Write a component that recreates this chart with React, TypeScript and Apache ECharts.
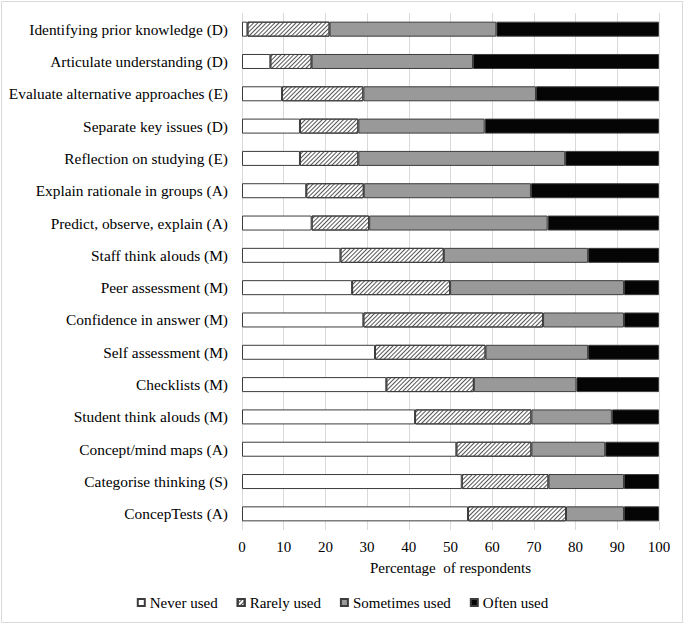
import React, { useEffect, useRef } from "react";
import * as echarts from "echarts";

const categories = [
  "Identifying prior knowledge (D)",
  "Articulate understanding (D)",
  "Evaluate alternative approaches (E)",
  "Separate key issues (D)",
  "Reflection on studying (E)",
  "Explain rationale in groups (A)",
  "Predict, observe, explain (A)",
  "Staff think alouds (M)",
  "Peer assessment (M)",
  "Confidence in answer (M)",
  "Self assessment (M)",
  "Checklists (M)",
  "Student think alouds (M)",
  "Concept/mind maps (A)",
  "Categorise thinking (S)",
  "ConcepTests (A)",
];

const neverUsed = [1.3, 6.8, 9.6, 13.9, 13.9, 15.4, 16.7, 23.6, 26.4, 29.1, 31.9, 34.6, 41.5, 51.4, 52.7, 54.2];
const rarelyUsed = [19.7, 9.9, 19.5, 14.0, 14.0, 13.8, 13.8, 24.8, 23.5, 43.1, 26.5, 21.0, 27.9, 18.0, 20.8, 23.5];
const sometimesUsed = [40.0, 38.7, 41.4, 30.3, 49.6, 40.1, 42.8, 34.6, 41.7, 19.4, 24.6, 24.6, 19.3, 17.7, 18.1, 13.9];
const oftenUsed = [39.0, 44.6, 29.5, 41.8, 22.5, 30.7, 26.7, 17.0, 8.4, 8.4, 17.0, 19.8, 11.3, 12.9, 8.4, 8.4];

const xTicks = ["0", "10", "20", "30", "40", "50", "60", "70", "80", "90", "100"];

const FONT = "'Liberation Serif', 'Times New Roman', serif";

export default function App() {
  const ref = useRef<HTMLDivElement>(null);
  useEffect(() => {
    if (!ref.current) return;
    const chart = echarts.init(ref.current, undefined, { renderer: "svg" });
    const border = "#3c3c3c";
    const mk = (name: string, data: number[], color: string, decal?: any) => ({
      name,
      type: "bar",
      stack: "total",
      data,
      barWidth: 15,
      itemStyle: { color, borderColor: border, borderWidth: 1, decal },
      emphasis: { disabled: true },
    });
    chart.setOption({
      animation: false,
      backgroundColor: "#ffffff",
      textStyle: { fontFamily: FONT },
      graphic: [
        {
          type: "rect",
          shape: { x: 1.5, y: 1.5, width: 681, height: 621 },
          style: { fill: "none", stroke: "#d9d9d9", lineWidth: 1 },
          silent: true,
        },
      ],
      grid: { left: 242, right: 26, top: 13, height: 517 },
      legend: {
        bottom: 12,
        left: "center",
        icon: "rect",
        itemWidth: 7,
        itemHeight: 7,
        itemGap: 19,
        textStyle: { fontFamily: FONT, fontSize: 15, color: "#000" },
        data: ["Never used", "Rarely used", "Sometimes used", "Often used"],
      },
      xAxis: {
        type: "value",
        min: 0,
        max: 100,
        interval: 10,
        axisLine: { show: false },
        axisTick: { show: false },
        splitLine: { show: true, lineStyle: { color: "#d9d9d9", width: 1 } },
        axisLabel: {
          fontFamily: FONT,
          fontSize: 15,
          color: "#000",
          margin: 9,
          formatter: (v: number) => xTicks[Math.round(v / 10)] ?? String(v),
        },
        name: "Percentage  of respondents",
        nameLocation: "middle",
        nameGap: 30,
        nameTextStyle: { fontFamily: FONT, fontSize: 15, color: "#000" },
      },
      yAxis: {
        type: "category",
        data: categories,
        inverse: true,
        axisLine: { show: false },
        axisTick: { show: false },
        axisLabel: { fontFamily: FONT, fontSize: 15.4, color: "#000", margin: 14 },
      },
      series: [
        mk("Never used", neverUsed, "#ffffff"),
        mk("Rarely used", rarelyUsed, "#ffffff", {
          symbol: "rect",
          color: "#555555",
          dashArrayX: [1, 0],
          dashArrayY: [1, 1.8],
          rotation: -Math.PI / 4,
        }),
        mk("Sometimes used", sometimesUsed, "#999999"),
        mk("Often used", oftenUsed, "#050505"),
      ],
    });
    return () => chart.dispose();
  }, []);
  return (
    <div
      ref={ref}
      style={{ position: "absolute", left: 0, top: 0, width: 685, height: 627, background: "#fff" }}
    />
  );
}
